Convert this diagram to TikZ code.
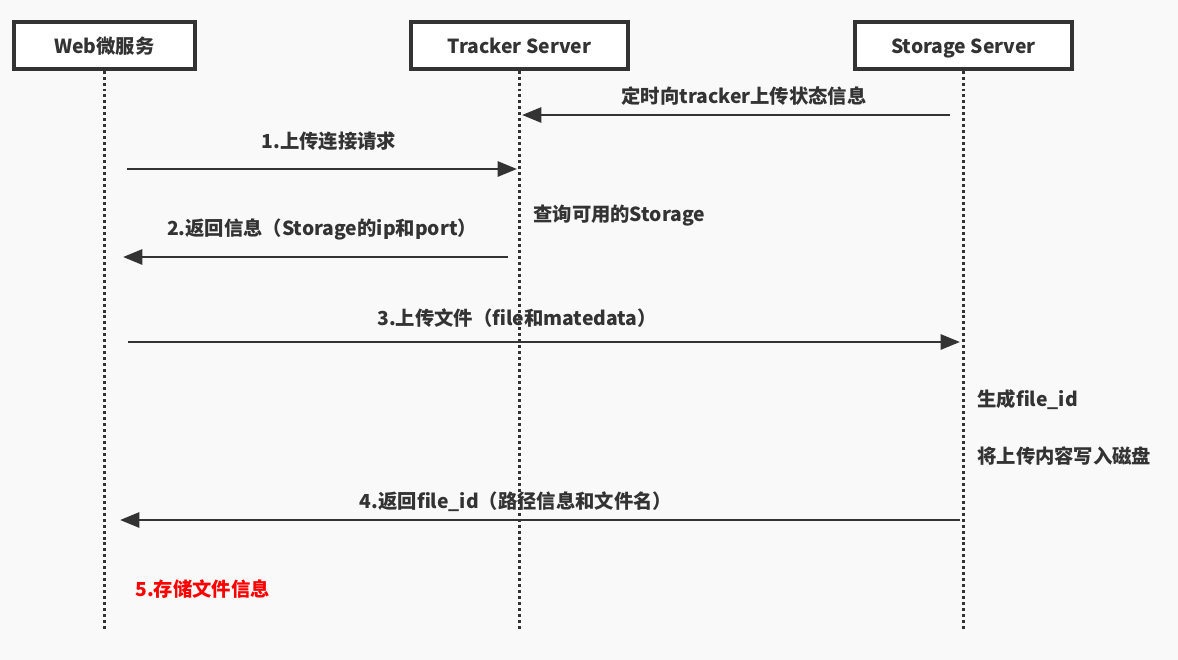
\documentclass[tikz,border=0pt]{standalone}
\usepackage{fontspec}
\setmainfont{Noto Sans CJK SC}
\usetikzlibrary{arrows.meta,positioning}
\definecolor{ink}{HTML}{333333}
\definecolor{paper}{HTML}{F9F9F9}

\begin{document}
\begin{tikzpicture}[x=0.02cm, y=-0.02cm, >={Triangle[length=11pt,width=8.5pt]},
  actor/.style={draw=ink, line width=1.8pt, fill=white, minimum height=0.94cm,
    font=\bfseries\fontsize{11}{13}\selectfont, text=ink,
    text height=9.5pt, text depth=0pt},
  life/.style={ink, line width=1.3pt, dash pattern=on 1.7pt off 1.7pt},
  msg/.style={->, ink, line width=1.7pt},
  lbl/.style={font=\bfseries\fontsize{11}{13}\selectfont, text=ink, inner sep=0pt},
  note/.style={lbl, anchor=west}]
\fill[paper] (0,0) rectangle (1178,660);
\useasboundingbox (0,0) rectangle (1178,660);

% participants
\node[actor, minimum width=3.62cm] (web) at (104.5,45.5) {Web微服务};
\node[actor, minimum width=4.34cm] (tracker) at (519.5,45.5) {Tracker Server};
\node[actor, minimum width=4.34cm] (storage) at (963.5,45.5) {Storage Server};

% lifelines
\foreach \n in {web,tracker,storage} {
  \coordinate (\n-end) at (\n.south |- 0,630);
  \draw[life] (\n.south) -- (\n-end);
}

% message ends
\coordinate (m0s) at (950,115);  \coordinate (m0e) at (522,115);
\coordinate (m1s) at (127,169);  \coordinate (m1e) at (517,169);
\coordinate (m2s) at (508,257);  \coordinate (m2e) at (123,257);
\coordinate (m3s) at (128,342);  \coordinate (m3e) at (960,342);
\coordinate (m4s) at (960,520);  \coordinate (m4e) at (120,520);

\draw[msg] (m0s) -- (m0e);
\draw[msg] (m1s) -- (m1e);
\draw[msg] (m2s) -- (m2e);
\draw[msg] (m3s) -- (m3e);
\draw[msg] (m4s) -- (m4e);

% labels
\node[lbl] (lab0) at (744,96) {定时向tracker上传状态信息};
\node[lbl] (lab1) at (329,141) {1.上传连接请求};
\node[lbl] (lab2) at (322,229) {2.返回信息（Storage的ip和port）};
\node[lbl] (lab3) at (517,318) {3.上传文件（file和matedata）};
\node[lbl] (lab4) at (516,502) {4.返回file\_id（路径信息和文件名）};

% notes
\node[note] (query) at (533,216) {查询可用的Storage};
\node[note] (genid) at (977,400) {生成file\_id};
\node[note] (write) at (977,456) {将上传内容写入磁盘};
\node[note, text=red] (save) at (135,589) {5.存储文件信息};
\end{tikzpicture}
\end{document}
